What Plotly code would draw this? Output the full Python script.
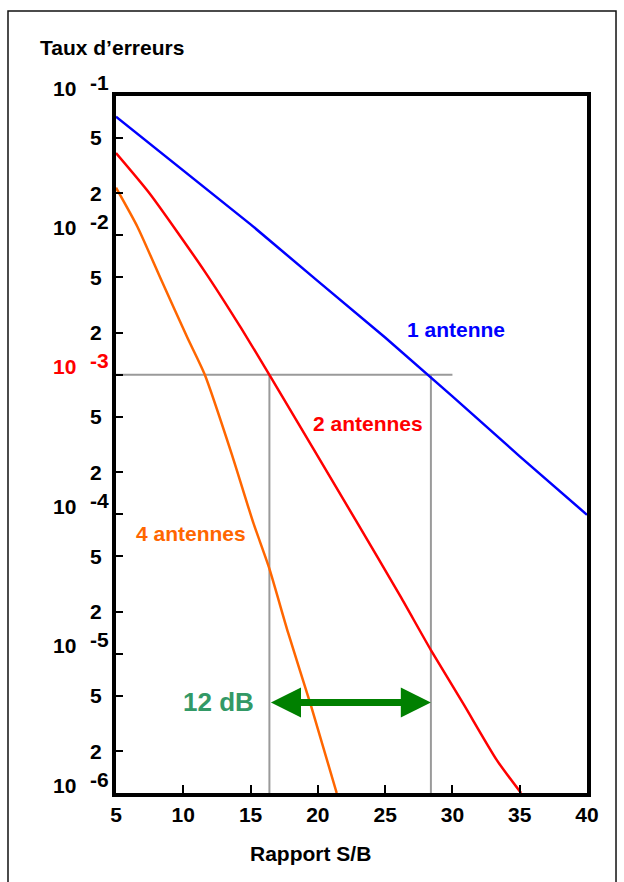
import plotly.graph_objects as go
import math

# ---- data ----
snr_1 = [5, 10, 15, 20, 25, 30, 35, 40]
ber_1 = [7.1e-2, 2.9e-2, 1.2e-2, 4.7e-3, 1.85e-3, 7.0e-4, 2.6e-4, 9.9e-5]

snr_2 = [5.0, 7.5, 11.6, 14.3, 16.4, 22.8, 26.15, 28.4, 30.85, 33.3, 35.1]
ber_2 = [3.9e-2, 2.0e-2, 5.5e-3, 2.16e-3, 1.0e-3, 9.1e-5, 2.56e-5, 1.06e-5, 4.3e-6, 1.72e-6, 1.0e-6]

snr_4 = [5.0, 6.6, 8.4, 10.3, 11.6, 13.6, 15.2, 16.35, 17.8, 19.5, 21.4]
ber_4 = [2.2e-2, 1.15e-2, 4.7e-3, 1.85e-3, 1.0e-3, 2.7e-4, 8.7e-5, 4.2e-5, 1.4e-5, 4.2e-6, 1.0e-6]

ref_ber = 1e-3
ref_snr_start = 5
ref_snr_end = 30
ref_snr_4 = 16.4   # 2 antennes at 1e-3
ref_snr_1 = 28.4   # 1 antenne at 1e-3
ber_min = 1e-6
arrow_ber = 4.46e-6

x_ticks = [5, 10, 15, 20, 25, 30, 35, 40]
decade_exps = [-1, -2, -3, -4, -5, -6]
minor_mults = [5, 2]

labels = ["1 antenne", "2 antennes", "4 antennes"]
label_x = [30.25, 23.7, 10.6]
label_ber = [2.12e-3, 4.44e-4, 7.3e-5]
colors = ["#0000ff", "#ff0000", "#ff6600"]

FONT = "Liberation Sans, Arial, sans-serif"
FS = 21

fig = go.Figure()

# gray reference lines
fig.add_trace(go.Scatter(x=[ref_snr_start, ref_snr_end], y=[ref_ber, ref_ber], mode="lines",
                         line=dict(color="#9a9a9a", width=2), showlegend=False, hoverinfo="skip"))
for xv in [ref_snr_4, ref_snr_1]:
    fig.add_trace(go.Scatter(x=[xv, xv], y=[ref_ber, ber_min], mode="lines",
                             line=dict(color="#9a9a9a", width=2), showlegend=False, hoverinfo="skip"))

for xs, ys, c, shp in [(snr_1, ber_1, colors[0], "linear"),
                       (snr_2, ber_2, colors[1], "spline"),
                       (snr_4, ber_4, colors[2], "spline")]:
    fig.add_trace(go.Scatter(x=xs, y=ys, mode="lines",
                             line=dict(color=c, width=2.5, shape=shp, smoothing=0.6),
                             showlegend=False, hoverinfo="skip"))

# y tick values
y_tickvals = []
for e in decade_exps:
    y_tickvals.append(10 ** e)
    if e > -6:
        for m in minor_mults:
            y_tickvals.append(m * 10 ** (e - 1))

annotations = []
# y tick labels
for e in decade_exps:
    col = "#ff0000" if e == -3 else "#000000"
    annotations.append(dict(x=-0.0807, y=e, xref="paper", yref="y", text="10", showarrow=False,
                            xanchor="right", yanchor="middle", yshift=8,
                            font=dict(family=FONT, size=FS, color=col, weight="bold")))
    annotations.append(dict(x=-0.0594, y=e, xref="paper", yref="y", text=str(e), showarrow=False,
                            xanchor="left", yanchor="middle", yshift=14,
                            font=dict(family=FONT, size=FS, color=col, weight="bold")))
    if e > -6:
        for m in minor_mults:
            annotations.append(dict(x=-0.0255, y=math.log10(m * 10 ** (e - 1)), xref="paper", yref="y",
                                    text=str(m), showarrow=False, xanchor="right", yanchor="middle",
                                    font=dict(family=FONT, size=FS, color="#000000", weight="bold")))

# curve labels
for t, lx, lb, c in zip(labels, label_x, label_ber, colors):
    annotations.append(dict(x=lx, y=math.log10(lb), xref="x", yref="y", text=t, showarrow=False,
                            xanchor="center", yanchor="middle",
                            font=dict(family=FONT, size=FS, color=c, weight="bold")))

# 12 dB arrow
annotations.append(dict(x=ref_snr_1, y=math.log10(arrow_ber), ax=ref_snr_4, ay=math.log10(arrow_ber),
                        xref="x", yref="y", axref="x", ayref="y", text="", showarrow=True,
                        arrowhead=2, startarrowhead=2, arrowside="end+start",
                        arrowsize=0.86, startarrowsize=0.86, arrowwidth=7, arrowcolor="#008000",
                        standoff=0, startstandoff=0))
annotations.append(dict(x=ref_snr_4, y=math.log10(arrow_ber), xref="x", yref="y", text="12 dB",
                        showarrow=False, xanchor="right", yanchor="middle", xshift=-13,
                        font=dict(family=FONT, size=26, color="#339966", weight="bold")))

# titles
annotations.append(dict(x=-0.1656, y=1.0703, xref="paper", yref="paper", text="Taux d’erreurs",
                        showarrow=False, xanchor="left", yanchor="middle",
                        font=dict(family=FONT, size=FS, color="#000000", weight="bold")))
annotations.append(dict(x=0.4119, y=-0.0861, xref="paper", yref="paper", text="Rapport S/B",
                        showarrow=False, xanchor="center", yanchor="middle",
                        font=dict(family=FONT, size=FS, color="#000000", weight="bold")))

fig.update_layout(
    width=624, height=882,
    margin=dict(l=116, r=37, t=96, b=89),
    paper_bgcolor="white", plot_bgcolor="white",
    annotations=annotations,
    shapes=[dict(type="rect", xref="paper", yref="paper", x0=-0.2293, x1=1.0616, y0=-0.3, y1=1.1219,
                 line=dict(color="#111111", width=1.5), fillcolor="rgba(0,0,0,0)", layer="below")],
    xaxis=dict(range=[5, 40], tickvals=x_ticks, ticktext=[str(v) for v in x_ticks],
               ticks="inside", ticklen=8, tickwidth=2, tickcolor="black",
               showline=True, linewidth=4, linecolor="black", mirror=True,
               showgrid=False, zeroline=False,
               tickfont=dict(family=FONT, size=FS, color="black", weight="bold")),
    yaxis=dict(type="log", range=[-6, -1], tickvals=y_tickvals, showticklabels=False,
               ticks="inside", ticklen=7, tickwidth=2, tickcolor="black",
               showline=True, linewidth=4, linecolor="black", mirror=True,
               showgrid=False, zeroline=False),
)

fig.write_html("out.html")
